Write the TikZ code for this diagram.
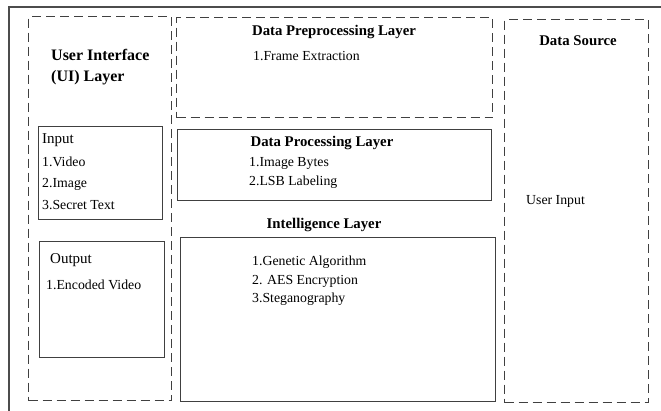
\documentclass[tikz,border=0pt]{standalone}
\usepackage{fontspec}
\setmainfont{Liberation Serif}
\begin{document}
\begin{tikzpicture}[x=1pt,y=-1pt,
  solidbox/.style={draw=black!75,line width=1.1pt,anchor=north west,inner sep=0pt},
  dashbox/.style={draw=black!75,line width=1.1pt,dash pattern=on 9pt off 5pt,anchor=north west,inner sep=0pt},
  item/.style={anchor=west,inner sep=0pt,font=\fontsize{13.8}{15}\selectfont},
  head/.style={inner sep=0pt,font=\fontsize{14.8}{17}\selectfont\bfseries}]
\useasboundingbox (0,0) rectangle (661,410);
\fill[white] (0,0) rectangle (661,410);
% outer frame
\coordinate (fa) at (9,412);
\coordinate (fb) at (9,7);
\coordinate (fc) at (663,7);
\draw[black!70,line width=1.3pt] (fa) -- (fb) -- (fc);
% UI layer
\node[dashbox,minimum width=143pt,minimum height=384pt] (ui) at (28,16) {};
\node[head,font=\fontsize{16}{21}\selectfont\bfseries,align=left,anchor=north west] (uit) at (51,49) {User Interface\\(UI) Layer};
\node[solidbox,minimum width=124pt,minimum height=93pt] (in) at (38,126) {};
\node[item,font=\fontsize{15}{16}\selectfont] (inh) at (42,140) {Input};
\node[item] (in1) at (42,162) {1.Video};
\node[item] (in2) at (42,184) {2.Image};
\node[item] (in3) at (42,205) {3.Secret Text};
\node[solidbox,minimum width=125pt,minimum height=116pt] (out) at (39,241) {};
\node[item,font=\fontsize{15}{16}\selectfont] (outh) at (50,260) {Output};
\node[item] (out1) at (46,285) {1.Encoded Video};
% preprocessing
\node[dashbox,minimum width=316pt,minimum height=100pt] (pre) at (176,17) {};
\node[head] (pret) at (334,32) {Data Preprocessing Layer};
\node[item] (pre1) at (253,56) {1.Frame Extraction};
% processing
\node[solidbox,minimum width=314pt,minimum height=71pt] (proc) at (177,129) {};
\node[head] (proct) at (322,143) {Data Processing Layer};
\node[item] (proc1) at (249,163) {1.Image Bytes};
\node[item] (proc2) at (249,182) {2.LSB Labeling};
% intelligence
\node[head] (intt) at (324,225) {Intelligence Layer};
\node[solidbox,minimum width=315pt,minimum height=164pt] (intel) at (180,237) {};
\node[item] (int1) at (252,262) {1.Genetic Algorithm};
\node[item] (int2) at (252,281) {2. AES Encryption};
\node[item] (int3) at (252,299) {3.Steganography};
% data source
\node[dashbox,minimum width=144pt,minimum height=383pt] (ds) at (504,19) {};
\node[head] (dst) at (578,41) {Data Source};
\node[item] (ds1) at (526,201) {User Input};
\end{tikzpicture}
\end{document}
